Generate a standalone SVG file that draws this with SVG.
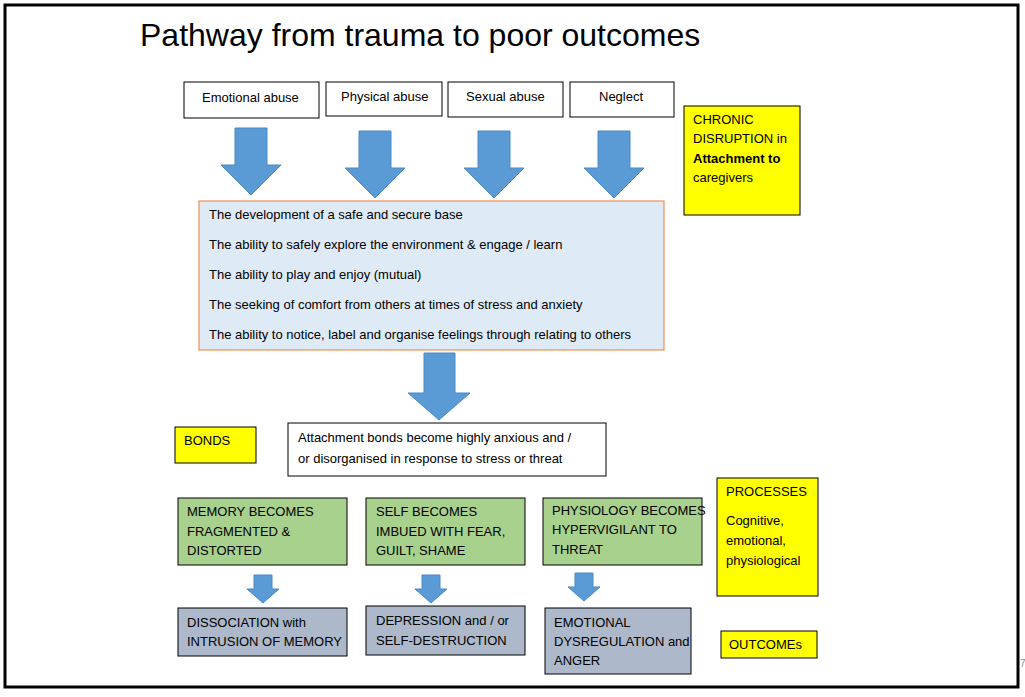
<svg xmlns="http://www.w3.org/2000/svg" width="1025" height="697" viewBox="0 0 1025 697">
<style>
text{font-family:"Liberation Sans",Arial,sans-serif;font-size:13px;fill:#000}
.w{fill:#fff;stroke:#000;stroke-width:1}
.y{fill:#ffff00;stroke:#000;stroke-width:1}
.g{fill:#a9d18e;stroke:#000;stroke-width:1}
.s{fill:#adb9ca;stroke:#000;stroke-width:1}
.a{fill:#5b9bd5;stroke:#4a89c4;stroke-width:1}
</style>
<defs>
<path id="arr" d="M-16,0 H16 V37 H30 L0,67 L-30,37 H-16 Z"/>
<path id="sm" d="M-9,0 H9 V14 H16 L0,28 L-16,14 H-9 Z"/>
</defs>
<rect x="0" y="0" width="1025" height="697" fill="#fff"/>
<rect x="5" y="5" width="1013" height="682" fill="none" stroke="#000" stroke-width="3"/>
<text x="140" y="46" style="font-size:32px">Pathway from trauma to poor outcomes</text>
<text x="1020" y="667" style="font-size:10px;fill:#888">7</text>
<g id="connectors">
<use href="#arr" x="251" y="128" class="a"/>
<use href="#arr" x="375" y="131" class="a"/>
<use href="#arr" x="494" y="131" class="a"/>
<use href="#arr" x="614" y="131" class="a"/>
<path class="a" d="M424,353 H455 V393 H470 L439,420 L408,393 H424 Z"/>
<use href="#sm" x="263" y="575" class="a"/>
<use href="#sm" x="431" y="575" class="a"/>
<use href="#sm" x="584" y="573" class="a"/>
</g>
<g id="n1"><rect class="w" x="184" y="82" width="135" height="36"/><text x="202" y="102">Emotional abuse</text></g>
<g id="n2"><rect class="w" x="326" y="82" width="116" height="34"/><text x="341" y="101">Physical abuse</text></g>
<g id="n3"><rect class="w" x="448" y="82" width="115" height="35"/><text x="466" y="101">Sexual abuse</text></g>
<g id="n4"><rect class="w" x="570" y="82" width="104" height="35"/><text x="599" y="101">Neglect</text></g>
<g id="chronic"><rect class="y" x="684" y="106" width="116" height="109"/><text x="693" y="124">CHRONIC</text><text x="693" y="143">DISRUPTION in</text><text x="693" y="163" font-weight="bold">Attachment to</text><text x="693" y="182">caregivers</text></g>
<g id="base"><rect x="199" y="201" width="465" height="149" fill="#deebf7" stroke="#ed7d31" stroke-width="1"/>
<text x="209" y="219">The development of a safe and secure base</text>
<text x="209" y="249">The ability to safely explore the environment &amp; engage / learn</text>
<text x="209" y="279">The ability to play and enjoy (mutual)</text>
<text x="209" y="309">The seeking of comfort from others at times of stress and anxiety</text>
<text x="209" y="339">The ability to notice, label and organise feelings through relating to others</text></g>
<g id="bonds"><rect class="y" x="175" y="427" width="81" height="36"/><text x="184" y="445">BONDS</text></g>
<g id="attach"><rect class="w" x="288" y="423" width="318" height="53"/><text x="298" y="442">Attachment bonds become highly anxious and /</text><text x="298" y="463">or disorganised in response to stress or threat</text></g>
<g id="processes"><rect class="y" x="717" y="478" width="101" height="118"/><text x="726" y="496">PROCESSES</text><text x="726" y="525">Cognitive,</text><text x="726" y="545">emotional,</text><text x="726" y="565">physiological</text></g>
<g id="mem"><rect class="g" x="178" y="498" width="169" height="67"/><text x="187" y="516">MEMORY BECOMES</text><text x="187" y="536">FRAGMENTED &amp;</text><text x="187" y="555">DISTORTED</text></g>
<g id="self"><rect class="g" x="366" y="498" width="159" height="67"/><text x="376" y="516">SELF BECOMES</text><text x="376" y="536">IMBUED WITH FEAR,</text><text x="376" y="555">GUILT, SHAME</text></g>
<g id="phys"><rect class="g" x="543" y="498" width="159" height="67"/><text x="552" y="515">PHYSIOLOGY BECOMES</text><text x="552" y="534">HYPERVIGILANT TO</text><text x="552" y="554">THREAT</text></g>
<g id="diss"><rect class="s" x="178" y="608" width="169" height="48"/><text x="187" y="627">DISSOCIATION with</text><text x="187" y="646">INTRUSION OF MEMORY</text></g>
<g id="dep"><rect class="s" x="366" y="606" width="159" height="49"/><text x="376" y="625">DEPRESSION and / or</text><text x="376" y="645">SELF-DESTRUCTION</text></g>
<g id="emo"><rect class="s" x="545" y="608" width="146" height="66"/><text x="554" y="627">EMOTIONAL</text><text x="554" y="646">DYSREGULATION and</text><text x="554" y="665">ANGER</text></g>
<g id="outcomes"><rect class="y" x="721" y="631" width="96" height="27"/><text x="729" y="649">OUTCOMEs</text></g>
</svg>
